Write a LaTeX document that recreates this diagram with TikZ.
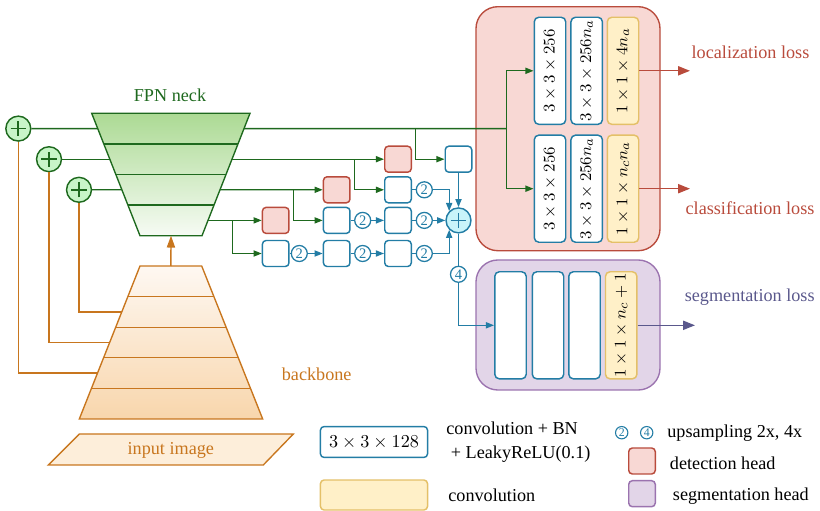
\documentclass[tikz,border=0pt]{standalone}
\usepackage{fontspec}
\setmainfont{Liberation Serif}
\usetikzlibrary{arrows.meta,calc}
\definecolor{gC}{RGB}{30,105,30}
\definecolor{gF}{RGB}{200,245,200}
\definecolor{fpnT}{RGB}{172,218,148}
\definecolor{fpnB}{RGB}{246,251,244}
\definecolor{bC}{RGB}{35,125,165}
\definecolor{cF}{RGB}{200,244,250}
\definecolor{rC}{RGB}{185,75,60}
\definecolor{rF}{RGB}{248,216,212}
\definecolor{pC}{RGB}{155,115,175}
\definecolor{pF}{RGB}{226,213,232}
\definecolor{yC}{RGB}{228,192,104}
\definecolor{yF}{RGB}{255,240,200}
\definecolor{oC}{RGB}{200,118,30}
\definecolor{oT}{RGB}{254,248,242}
\definecolor{oB}{RGB}{248,214,172}
\definecolor{oF}{RGB}{253,238,218}
\definecolor{segT}{RGB}{90,88,140}
\begin{document}
\begin{tikzpicture}[x=0.55pt,y=-0.55pt, line width=0.75pt, font=\fontsize{10}{12}\selectfont,
 blk/.style={draw=bC, fill=white, rounded corners=2pt, minimum width=14.6pt, minimum height=14.3pt, inner sep=0pt, line width=0.8pt},
 det/.style={blk, draw=rC, fill=rF},
 upc/.style={circle, draw=bC, fill=white, inner sep=0pt, minimum size=8.8pt, text=bC, font=\fontsize{8}{8}\selectfont, line width=0.7pt},
 hcol/.style={draw=bC, fill=white, rounded corners=2.5pt, minimum width=17.3pt, minimum height=58.9pt, inner sep=0pt, line width=0.8pt, font=\fontsize{9.5}{10}\selectfont},
 ycol/.style={hcol, draw=yC, fill=yF},
 plusc/.style 2 args={circle, draw=#1, fill=#2, minimum size=13.7pt, inner sep=0pt, line width=0.8pt,
   path picture={\draw[#1, line width=0.9pt] ([xshift=-4.2pt]path picture bounding box.center) -- ([xshift=4.2pt]path picture bounding box.center) ([yshift=-4.2pt]path picture bounding box.center) -- ([yshift=4.2pt]path picture bounding box.center);}},
 garr/.style={gC, -{Triangle[length=4.5pt,width=3.4pt]}},
 barr/.style={bC, -{Triangle[length=4.5pt,width=3.4pt]}},
 lgtxt/.style={anchor=west, inner sep=0pt},
]
\useasboundingbox (0,0) rectangle (820,511);

% head backgrounds
\draw[rC, fill=rF, rounded corners=12pt] (476,6.7) rectangle (660,250.7);
\draw[pC, fill=pF, rounded corners=12pt] (476,260) rectangle (660,390);

% FPN neck
\coordinate (fTL) at (91.7,113.3); \coordinate (fTR) at (250,113.3);
\coordinate (fBR) at (202,235.7); \coordinate (fBL) at (140,235.7);
\shade[top color=fpnT, bottom color=fpnB] (fTL) -- (fTR) -- (fBR) -- (fBL) -- cycle;
\draw[gC] (fTL) -- (fTR) -- (fBR) -- (fBL) -- cycle;
\foreach \t in {0.25,0.5,0.75} \draw[gC] ($(fTL)!\t!(fBL)$) -- ($(fTR)!\t!(fBR)$);
\foreach \i/\t in {1/0.125,2/0.375,3/0.625,4/0.875} {
  \coordinate (fL\i) at ($(fTL)!\t!(fBL)$);
  \coordinate (fR\i) at ($(fTR)!\t!(fBR)$);
}
\coordinate (fBot) at ($(fBL)!0.5!(fBR)$);
\node[text=gC] (fpnlab) at (170,95.7) {FPN neck};

% backbone
\coordinate (bTL) at (140,266); \coordinate (bTR) at (201.7,266);
\coordinate (bBR) at (262.7,419); \coordinate (bBL) at (79.3,419);
\shade[top color=oT, bottom color=oB] (bTL) -- (bTR) -- (bBR) -- (bBL) -- cycle;
\draw[oC] (bTL) -- (bTR) -- (bBR) -- (bBL) -- cycle;
\foreach \t in {0.2,0.4,0.6,0.8} \draw[oC] ($(bTL)!\t!(bBL)$) -- ($(bTR)!\t!(bBR)$);
\foreach \i/\t in {2/0.3,3/0.5,4/0.7} \coordinate (bL\i) at ($(bTL)!\t!(bBL)$);
\coordinate (bTop) at ($(bTL)!0.5!(bTR)$);
\draw[oC, -{Triangle[length=6.5pt,width=4.5pt]}] (bTop) -- (fBot);
\node[text=oC] (bblab) at (316.7,374) {backbone};

% input image
\draw[oC, fill=oF] (79.3,434) -- (293.3,434) -- (263.3,465) -- (48.3,465) -- cycle;
\node[text=oC] (inimg) at (170.8,450) {input image};

% lateral plus circles
\node[plusc={gC}{gF}] (c1) at (18.3,128.6) {};
\node[plusc={gC}{gF}] (c2) at (49,159.2) {};
\node[plusc={gC}{gF}] (c3) at (79,189.8) {};
\draw[gC] (c1) -- (fL1);
\draw[gC] (c2) -- (fL2);
\draw[gC] (c3) -- (fL3);
\draw[oC] (c1) |- (bL4);
\draw[oC] (c2) |- (bL3);
\draw[oC] (c3) |- (bL2);

% head columns
\node[hcol] (h11) at (550,70.8) {\rotatebox{90}{$3\times3\times256$}};
\node[hcol] (h12) at (586.7,70.8) {\rotatebox{90}{$3\times3\times256n_a$}};
\node[ycol] (h13) at (623,70.8) {\rotatebox{90}{$1\times1\times4n_a$}};
\node[hcol] (h21) at (550,188.7) {\rotatebox{90}{$3\times3\times256$}};
\node[hcol] (h22) at (586.7,188.7) {\rotatebox{90}{$3\times3\times256n_a$}};
\node[ycol] (h23) at (623,188.7) {\rotatebox{90}{$1\times1\times n_cn_a$}};
\node[hcol] (s1) at (510.5,325.3) {};
\node[hcol] (s2) at (548,325.3) {};
\node[hcol] (s3) at (584.5,325.3) {};
\node[ycol] (s4) at (621.2,325.3) {\rotatebox{90}{$1\times1\times n_c+1$}};

% losses
\coordinate (locE) at (690,70.8);
\coordinate (clsE) at (690,188.7);
\coordinate (segE) at (695,325.3);
\draw[rC, -{Triangle[length=6.5pt,width=5pt]}] (h13) -- (locE);
\draw[rC, -{Triangle[length=6.5pt,width=5pt]}] (h23) -- (clsE);
\draw[segT, -{Triangle[length=6.5pt,width=5pt]}] (s4) -- (segE);
\node[text=rC] (loclab) at (750.5,52.3) {localization loss};
\node[text=rC] (clslab) at (750,208.3) {classification loss};
\node[text=segT] (seglab) at (749.7,296.7) {segmentation loss};

% middle blocks
\node[det] (d1) at (275.7,220.4) {};
\node[blk] (b51) at (275.7,253.5) {};
\node[det] (d2) at (336.7,189.8) {};
\node[blk] (b42) at (336.7,220.4) {};
\node[blk] (b52) at (336.7,253.5) {};
\node[det] (d3) at (398,159.2) {};
\node[blk] (b33) at (398,189.8) {};
\node[blk] (b43) at (398,220.4) {};
\node[blk] (b53) at (398,253.5) {};
\node[blk] (b34) at (458.5,159.2) {};
\node[plusc={bC}{cF}] (pl) at (458.5,220.4) {};
\node[upc] (u51) at (299.3,253.5) {2};
\node[upc] (u52) at (362.7,253.5) {2};
\node[upc] (u53) at (424.3,253.5) {2};
\node[upc] (u42) at (362.7,220.4) {2};
\node[upc] (u43) at (424.3,220.4) {2};
\node[upc] (u33) at (424.3,189.8) {2};
\node[upc] (u4) at (458.5,274.3) {4};

% blue connectors
\draw[bC] (b51) -- (u51); \draw[barr] (u51) -- (b52);
\draw[bC] (b52) -- (u52); \draw[barr] (u52) -- (b53);
\draw[bC] (b53) -- (u53); \draw[barr] (u53) -| (pl.south west);
\draw[bC] (b42) -- (u42); \draw[barr] (u42) -- (b43);
\draw[bC] (b43) -- (u43); \draw[barr] (u43) -- (pl);
\draw[bC] (b33) -- (u33); \draw[barr] (u33) -| (pl.north west);
\draw[barr] (b34) -- (pl);
\draw[bC] (pl) -- (u4);
\draw[barr] (u4) |- (s1);

% green connectors
\coordinate (j1a) at (415.7,128.6);
\coordinate (j1b) at (506.7,128.6);
\coordinate (j2) at (354.3,159.2);
\coordinate (j3) at (293.3,189.8);
\coordinate (j4) at (232.3,220.4);
\draw[gC] (fR1) -- (j1b);
\draw[garr] (j1a) |- (b34);
\draw[garr] (j1b) |- (h11);
\draw[garr] (j1b) |- (h21);
\draw[garr] (fR2) -- (d3); \draw[garr] (j2) |- (b33);
\draw[garr] (fR3) -- (d2); \draw[garr] (j3) |- (b42);
\draw[garr] (fR4) -- (d1); \draw[garr] (j4) |- (b51);

% legend
\node[blk, minimum width=58.9pt, minimum height=17pt, font=\fontsize{10}{10}\selectfont] (lg1) at (374,442) {$3\times3\times128$};
\node[blk, draw=yC, fill=yF, minimum width=58.9pt, minimum height=16.5pt] (lg2) at (374,495) {};
\node[lgtxt, align=left, font=\fontsize{10}{13.4}\selectfont] (lg1t) at (445.7,442) {convolution + BN\\ \ + LeakyReLU(0.1)};
\node[lgtxt] (lg2t) at (447.7,495.7) {convolution};
\node[upc, minimum size=6.8pt, font=\fontsize{6.5}{6.5}\selectfont, line width=0.6pt] (lgu2) at (621.7,432.7) {2};
\node[upc, minimum size=6.8pt, font=\fontsize{6.5}{6.5}\selectfont, line width=0.6pt] (lgu4) at (646.7,432.7) {4};
\node[lgtxt] (lgut) at (666.7,433) {upsampling 2x, 4x};
\node[det] (lgd) at (642,461) {};
\node[lgtxt] (lgdt) at (669.3,463) {detection head};
\node[blk, draw=pC, fill=pF] (lgs) at (642,493.7) {};
\node[lgtxt] (lgst) at (672.3,495.7) {segmentation head};
\end{tikzpicture}
\end{document}
